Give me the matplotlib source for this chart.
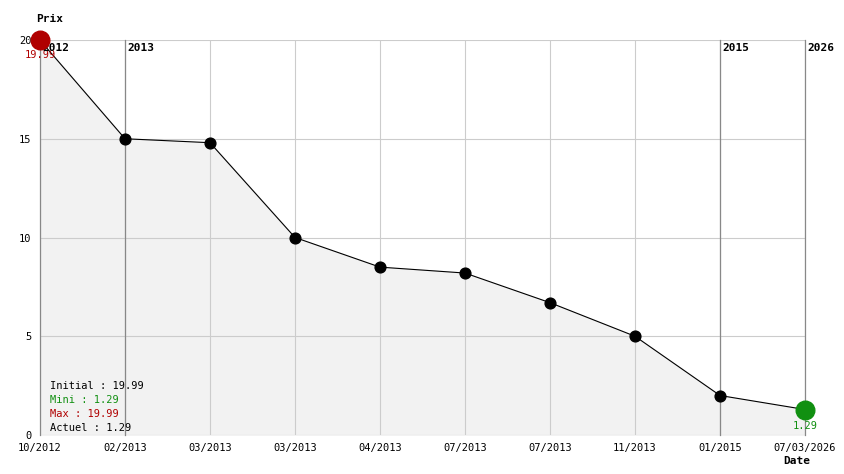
import matplotlib.pyplot as plt

# donnees
dates = ["10/2012", "02/2013", "03/2013", "03/2013", "04/2013", "07/2013",
         "07/2013", "11/2013", "01/2015", "07/03/2026"]
prix = [19.99, 15, 14.8, 10, 8.5, 8.2, 6.7, 5, 2, 1.29]
annees = {0: "2012", 1: "2013", 8: "2015", 9: "2026"}

plt.rcParams['font.family'] = 'DejaVu Sans Mono'
fig = plt.figure(figsize=(8.44, 4.74), dpi=100)
ax = fig.add_axes([40/844, 39/474, 765/844, 395/474])

x = list(range(len(prix)))
ax.fill_between(x, prix, 0, color="#f2f2f2", zorder=1)
ax.plot(x, prix, color="black", lw=0.8, zorder=3)
ax.scatter(x[1:-1], prix[1:-1], s=60, color="black", zorder=4)
ax.scatter([x[0]], [prix[0]], s=180, color="#b00000", zorder=5, clip_on=False)
ax.scatter([x[-1]], [prix[-1]], s=180, color="#119011", zorder=5, clip_on=False)
ax.text(x[0], prix[0] - 0.5, "19.99", color="#b00000", fontsize=7.5, ha="center", va="top")
ax.text(x[-1], prix[-1] - 0.6, "1.29", color="#119011", fontsize=7.5, ha="center", va="top")

ax.set_xlim(0, len(prix) - 1)
ax.set_ylim(0, 20)
ax.set_yticks([0, 5, 10, 15, 20])
ax.set_xticks(x)
ax.set_xticklabels(dates)
ax.tick_params(labelsize=7.5, length=0, pad=6)
ax.grid(True, color="#cccccc", lw=0.8, zorder=0)
for s in ax.spines.values():
    s.set_visible(False)

for i, a in annees.items():
    ax.axvline(i, color="#888888", lw=0.9, zorder=2, clip_on=False)
    ax.text(i + 0.03, 19.6, a, fontsize=8, fontweight="bold", va="center")

ax.text(-0.05, 20.9, "Prix", fontsize=8, fontweight="bold", transform=ax.transData)
fig.text(783/844, 10/474, "Date", fontsize=8, fontweight="bold")

leg = [("Initial : 19.99", "black"), ("Mini : 1.29", "#119011"),
       ("Max : 19.99", "#b00000"), ("Actuel : 1.29", "black")]
for k, (t, c) in enumerate(leg):
    ax.text(0.12, 2.5 - k * 0.72, t, color=c, fontsize=7.5, va="center")

fig.savefig("out.png", dpi=100)
